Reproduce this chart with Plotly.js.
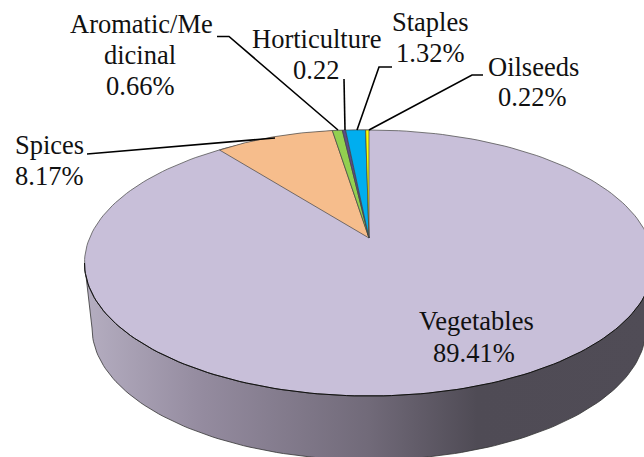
<!DOCTYPE html>
<html>
<head>
<meta charset="utf-8">
<script src="https://cdn.plot.ly/plotly-3.0.1.min.js"></script>
<style>html,body{margin:0;padding:0;background:#fff}</style>
</head>
<body>
<div id="chart" style="width:644px;height:457px"></div>
<script>
// Data
var categories = ["Vegetables", "Spices", "Aromatic/Medicinal", "Horticulture", "Staples", "Oilseeds"];
var shares = [89.41, 8.17, 0.66, 0.22, 1.32, 0.22];
var sliceColors = ["rgba(0,0,0,0)", "#f6bd8c", "#92d050", "#5b4a8a", "#00aeef", "#ffff00"];
var labelLines = [
  ["Vegetables", "89.41%"],
  ["Spices", "8.17%"],
  ["Aromatic/Me", "dicinal", "0.66%"],
  ["Horticulture", "0.22"],
  ["Staples", "1.32%"],
  ["Oilseeds", "0.22%"]
];

// Layout constants
var W = 644, H = 457;
var apex = {x: 369, y: 238}, pieB = 108, pieA = 242, shear = 0.02;
var topFace = {x: 369, y: 263, a: 284.5, b: 133};
var rim = {x: 369, y: 328, a: 277, b: 132};
var labelX = [[476.5, 474], [13, 13], [141, 140, 140], [316.5, 316], [430, 430], [533, 532]];
var labelY = [[321, 353], [145, 176], [24, 55, 86], [39, 70], [22, 53], [67, 97]];
var labelAnchor = ["center", "left", "center", "center", "center", "center"];
var leaders = [
  "M87,154 L275,138",
  "M217,36.5 L229,36.5 L338,130",
  "M344,79 L345,130",
  "M392,67 L379,67 L357,130",
  "M483,75 L472,75 L369,130"
];

function arc(e, from, to, n) {
  var xs = [], ys = [];
  for (var i = 0; i <= n; i++) {
    var t = from + (to - from) * i / n;
    xs.push(e.x + e.a * Math.cos(t));
    ys.push(e.y + e.b * Math.sin(t));
  }
  return {x: xs, y: ys};
}
var faceFull = arc(topFace, 0, 2 * Math.PI, 240);
var faceLow = arc(topFace, 0, Math.PI, 120);
var rimLow = arc(rim, Math.PI, 0, 120);

var wall = {
  type: "scatter", mode: "lines", hoverinfo: "skip", showlegend: false,
  x: faceLow.x.concat(rimLow.x), y: faceLow.y.concat(rimLow.y),
  fill: "toself",
  fillgradient: {type: "horizontal", colorscale: [[0, "#b5aec1"], [0.2, "#958ca0"], [0.5, "#716a79"], [0.69, "#4f4b55"], [1, "#504c56"]]},
  line: {color: "#333333", width: 0.8}
};
var face = {
  type: "scatter", mode: "lines", hoverinfo: "skip", showlegend: false,
  x: faceFull.x, y: faceFull.y, fill: "toself", fillcolor: "#c8bfd9",
  line: {color: "#555555", width: 0.8}
};
var faceEdge = {
  type: "scatter", mode: "lines", hoverinfo: "skip", showlegend: false,
  x: faceLow.x, y: faceLow.y, line: {color: "#111111", width: 1}
};
var pie = {
  type: "pie", labels: categories, values: shares, sort: false, direction: "clockwise", rotation: 0,
  textinfo: "none", showlegend: false,
  marker: {colors: sliceColors, line: {color: "#444444", width: [0, 0.7, 0.7, 0.7, 0.7, 0.7]}},
  domain: {x: [(apex.x - pieB) / W, (apex.x + pieB) / W], y: [1 - (apex.y + pieB) / H, 1 - (apex.y - pieB) / H]}
};

var annotations = [];
labelLines.forEach(function (lines, i) {
  lines.forEach(function (t, j) {
    annotations.push({
      xref: "x", yref: "y", x: labelX[i][j], y: labelY[i][j], text: t, showarrow: false,
      xanchor: labelAnchor[i], yanchor: "middle",
      font: {family: "Liberation Serif, serif", size: 26.5, color: "#111111"}
    });
  });
});
var shapes = leaders.map(function (p) {
  return {type: "path", xref: "x", yref: "y", path: p, layer: "above", line: {color: "#000000", width: 1.6}};
});

var layout = {
  width: W, height: H, margin: {l: 0, r: 0, t: 0, b: 0},
  paper_bgcolor: "#ffffff", plot_bgcolor: "#ffffff", showlegend: false,
  xaxis: {range: [0, W], visible: false, fixedrange: true},
  yaxis: {range: [H, 0], visible: false, fixedrange: true},
  annotations: annotations, shapes: shapes
};

Plotly.newPlot("chart", [wall, face, faceEdge, pie], layout, {displayModeBar: false, staticPlot: true}).then(function () {
  var sx = pieA / pieB, ky = shear * sx;
  var g = document.querySelector(".pielayer");
  g.setAttribute("transform", "matrix(" + sx + "," + ky + ",0,1," + (apex.x - sx * apex.x) + "," + (-ky * apex.x) + ")");
  g.querySelectorAll("path").forEach(function (p) { p.style.vectorEffect = "non-scaling-stroke"; });
});
</script>
</body>
</html>
